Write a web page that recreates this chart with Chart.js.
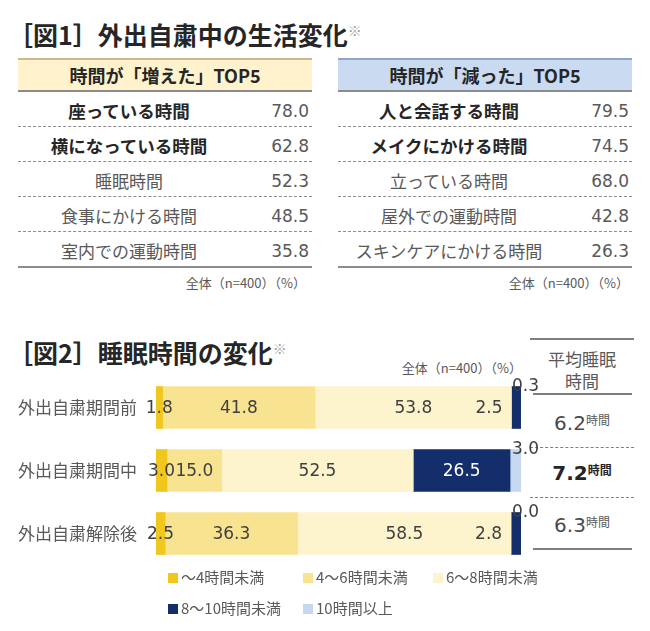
<!DOCTYPE html>
<html><head><meta charset="utf-8">
<script src="https://cdn.jsdelivr.net/npm/chart.js@4.4.1/dist/chart.umd.min.js"></script>
<style>
html,body{margin:0;padding:0;background:#fff}
body{width:650px;height:631px;position:relative;overflow:hidden;font-family:'Noto Sans CJK JP',sans-serif;color:#595959}
.abs{position:absolute;white-space:nowrap}
.title{position:absolute;left:8px;font-size:25px;line-height:25px;font-weight:bold;color:#262626;white-space:nowrap}
.kome{font-size:14px;font-weight:normal;color:#a0a0a0;vertical-align:top;position:relative;top:-4px}
.tbl{position:absolute;top:58px;width:294px}
.thead{height:30px;line-height:30px;text-align:center;font-weight:bold;font-size:18px;color:#262626;border-bottom:2px solid #8c8c8c}
.row{height:34px;border-bottom:1px dashed #8c8c8c;position:relative}
.row.last{border-bottom:2px solid #8c8c8c}
.row .lab{position:absolute;left:0;width:222px;text-align:center;top:2px;line-height:34px;font-size:17px;color:#595959}
.row .lab.b{font-weight:bold;font-size:17.5px;color:#262626}
.row .val{position:absolute;right:3px;top:2px;line-height:34px;font-family:'DejaVu Sans',sans-serif;font-size:17px;color:#595959}
.note{font-size:13px;color:#595959}
.avg{position:absolute;left:530px;width:104px;text-align:center}
.num{font-family:'DejaVu Sans',sans-serif;font-size:20px;color:#4a4a4a}
.unit{font-size:12px;vertical-align:top;position:relative;top:-3px;color:#595959}
.lg{position:absolute;font-size:15px;line-height:18px;color:#595959;white-space:nowrap}
.lg i{display:inline-block;width:10px;height:10px;margin-right:3px;vertical-align:0px}
</style></head>
<body>
<div class="title" style="top:22px">［図1］外出自粛中の生活変化<span class="kome">※</span></div>

<div class="tbl" id="tblUp" style="left:18px"></div>
<div class="tbl" id="tblDown" style="left:338px"></div>
<div class="abs note" style="right:344px;top:273px">全体（n=400）（%）</div>
<div class="abs note" style="right:21px;top:273px">全体（n=400）（%）</div>

<div class="title" style="top:340px">［図2］睡眠時間の変化<span class="kome">※</span></div>
<div class="abs note" style="right:128px;top:358px">全体（n=400）（%）</div>

<div class="abs" style="left:530px;top:338px;width:104px;border-top:2px solid #7f7f7f"></div>
<div class="avg" style="top:348px;font-size:17px;line-height:22px">平均睡眠<br>時間</div>
<div class="abs" style="left:533px;top:393px;width:99px;border-top:2px solid #7f7f7f"></div>
<div id="avgRows"></div>
<div class="abs" style="left:530px;top:447px;width:104px;border-top:1px dashed #7f7f7f"></div>
<div class="abs" style="left:530px;top:497px;width:104px;border-top:1px dashed #7f7f7f"></div>
<div class="abs" style="left:533px;top:548px;width:99px;border-top:2px solid #7f7f7f"></div>

<canvas id="c" width="560" height="200" style="position:absolute;left:0;top:370px"></canvas>

<div id="legend"></div>

<script>
// ---- data ----
const increasedItems = ['座っている時間','横になっている時間','睡眠時間','食事にかける時間','室内での運動時間'];
const increasedValues = [78.0, 62.8, 52.3, 48.5, 35.8];
const decreasedItems = ['人と会話する時間','メイクにかける時間','立っている時間','屋外での運動時間','スキンケアにかける時間'];
const decreasedValues = [79.5, 74.5, 68.0, 42.8, 26.3];

const periods = ['外出自粛期間前','外出自粛期間中','外出自粛解除後'];
const sleepBands = ['～4時間未満','4～6時間未満','6～8時間未満','8～10時間未満','10時間以上'];
const under4h = [1.8, 3.0, 2.5];
const from4to6h = [41.8, 15.0, 36.3];
const from6to8h = [53.8, 52.5, 58.5];
const from8to10h = [2.5, 26.5, 2.8];
const over10h = [0.3, 3.0, 0.0];
const avgSleepHours = [6.2, 7.2, 6.3];

// ---- tables ----
function buildTable(el, head, bg, topColor, items, vals){
  let h = `<div class="thead" style="background:${bg};border-top:2px solid ${topColor}">${head}</div>`;
  items.forEach((it,i)=>{
    h += `<div class="row${i===items.length-1?' last':''}"><span class="lab${i<2?' b':''}">${it}</span><span class="val">${vals[i].toFixed(1)}</span></div>`;
  });
  el.innerHTML = h;
}
buildTable(document.getElementById('tblUp'), '時間が「増えた」TOP5', '#fff2cc', '#c9b98a', increasedItems, increasedValues);
buildTable(document.getElementById('tblDown'), '時間が「減った」TOP5', '#c9daf1', '#8ea4c8', decreasedItems, decreasedValues);

// ---- average sleep column ----
const avgTops = [410, 460, 512];
let ah = '';
avgSleepHours.forEach((v,i)=>{
  const bold = i===1;
  ah += `<div class="avg" style="top:${avgTops[i]}px;line-height:26px"><span class="num" style="${bold?'font-weight:bold;color:#262626':''}">${v.toFixed(1)}</span><span class="unit" style="${bold?'font-weight:bold;color:#262626':''}">時間</span></div>`;
});
document.getElementById('avgRows').innerHTML = ah;

// ---- chart ----
const bandColors = ['#f0c71c','#f8e390','#fdf3cc','#132e6b','#c5d8f0'];
const seriesList = [under4h, from4to6h, from6to8h, from8to10h, over10h];

const segLabels = {
  id:'segLabels',
  afterDatasetsDraw(chart){
    const {ctx, chartArea} = chart;
    ctx.save();
    ctx.font = '17px "DejaVu Sans", sans-serif';
    ctx.textBaseline = 'middle';
    chart.data.datasets.forEach((ds, di)=>{
      const meta = chart.getDatasetMeta(di);
      meta.data.forEach((bar, i)=>{
        const v = ds.data[i];
        const left = Math.min(bar.x, bar.base), right = Math.max(bar.x, bar.base);
        const top = bar.y - bar.height/2;
        let x = (left+right)/2, y = bar.y, align = 'center', color = '#404040';
        if (di === 4) { x = chartArea.right - 9; y = top - 1; align = 'left'; }
        else if (di === 3 && v < 5) { x = left - 9; align = 'right'; }
        else if (di === 3) { color = '#ffffff'; }
        ctx.fillStyle = color;
        ctx.textAlign = align;
        ctx.fillText(v.toFixed(1), x, y + 1);
      });
    });
    ctx.restore();
  }
};

const chart = new Chart(document.getElementById('c'), {
  type:'bar',
  data:{
    labels: periods,
    datasets: sleepBands.map((b,i)=>({label:b, data:seriesList[i], backgroundColor:bandColors[i], borderWidth:0, barThickness:42}))
  },
  options:{
    indexAxis:'y',
    responsive:false,
    animation:false,
    layout:{padding:{top:6, bottom:5, left:0, right:39}},
    plugins:{legend:{display:false}, tooltip:{enabled:false}},
    scales:{
      x:{stacked:true, min:0, max:100, display:false},
      y:{stacked:true, grid:{display:false, drawTicks:false}, border:{display:false},
         ticks:{padding:19, color:'#595959', font:{family:'"Noto Sans CJK JP", sans-serif', size:17}},
         afterFit(s){ s.width = 156; s.paddingTop = 0; s.paddingBottom = 0; }}
    }
  },
  plugins:[segLabels]
});

// ---- legend (from chart datasets) ----
const lgPos = [[168,568],[303,568],[433,568],[168,599],[303,599]];
let lh = '';
chart.data.datasets.forEach((ds,i)=>{
  lh += `<div class="lg" style="left:${lgPos[i][0]}px;top:${lgPos[i][1]}px"><i style="background:${ds.backgroundColor}"></i>${ds.label}</div>`;
});
document.getElementById('legend').innerHTML = lh;
</script>
</body></html>
